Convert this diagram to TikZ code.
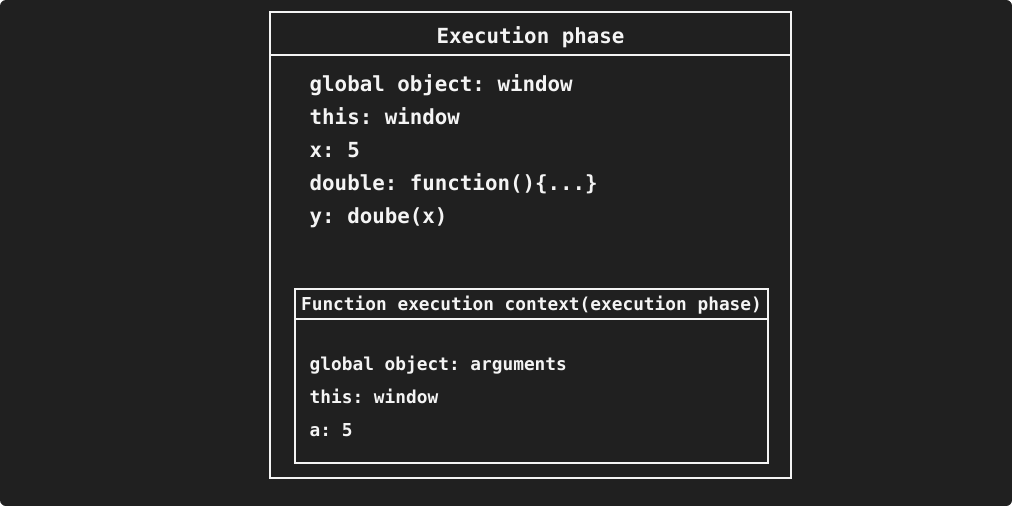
\documentclass[tikz,border=0pt]{standalone}
\usepackage{fontspec}
\setmonofont{DejaVu Sans Mono}
\definecolor{bg}{HTML}{202020}
\definecolor{fg}{HTML}{F4F4F4}
\begin{document}
\begin{tikzpicture}[x=1pt,y=-1pt,
  boxline/.style={draw=fg,line width=1.6pt},
  big/.style={text=fg,inner sep=0pt,font=\ttfamily\bfseries\fontsize{20.8}{24}\selectfont},
  small/.style={text=fg,inner sep=0pt,font=\ttfamily\bfseries\fontsize{17.8}{21}\selectfont}]
\useasboundingbox (0,0) rectangle (1012,506);
\fill[white] (0,0) rectangle (1012,506);
\fill[bg,rounded corners=6pt] (0,0) rectangle (1012,506);
% outer box
\draw[boxline] (270,12) rectangle (791,478);
\draw[boxline] (270,55) -- (791,55);
\node[big,anchor=base] (t1) at (530.5,43.3) {Execution phase};
\node[big,anchor=base west] (l1) at (309.5,91) {global object: window};
\node[big,anchor=base west] (l2) at (309.5,124) {this: window};
\node[big,anchor=base west] (l3) at (309.5,157) {x: 5};
\node[big,anchor=base west] (l4) at (309.5,190) {double: function()\{...\}};
\node[big,anchor=base west] (l5) at (309.5,223) {y: doube(x)};
% inner box
\draw[boxline] (295,289) rectangle (768,463);
\draw[boxline] (295,319) -- (768,319);
\node[small,anchor=base] (t2) at (531.5,310.7) {Function execution context(execution phase)};
\node[small,anchor=base west] (m1) at (309.5,370.7) {global object: arguments};
\node[small,anchor=base west] (m2) at (309.5,403.3) {this: window};
\node[small,anchor=base west] (m3) at (309.5,436) {a: 5};
\end{tikzpicture}
\end{document}
